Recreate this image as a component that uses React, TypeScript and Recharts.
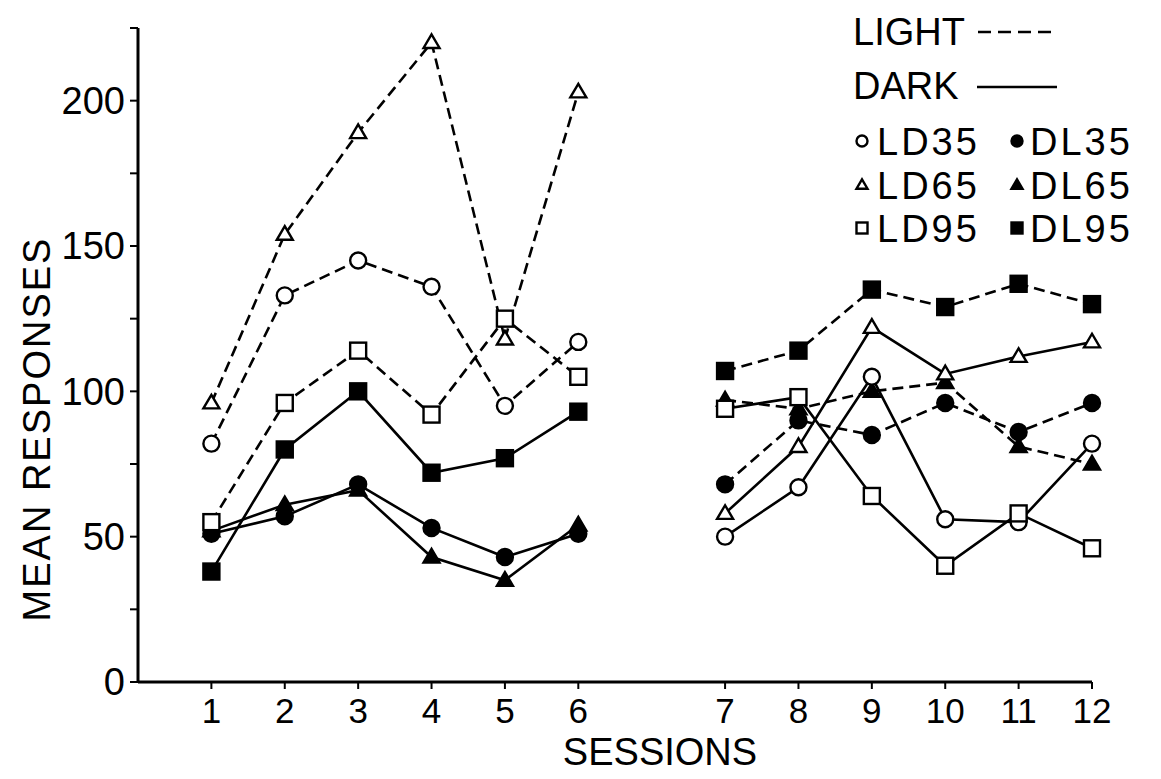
import React from 'react';
import { LineChart, Line, XAxis, YAxis } from 'recharts';

// sessions 1-6 are the first phase, 7-12 the reversed phase
const SESSIONS = [1, 2, 3, 4, 5, 6, 7, 8, 9, 10, 11, 12];
const Y_TICKS = [0, 25, 50, 75, 100, 125, 150, 175, 200, 225];

const LD35 = [82, 133, 145, 136, 95, 117, 50, 67, 105, 56, 55, 82];
const LD65 = [96, 154, 189, 220, 118, 203, 58, 81, 122, 106, 112, 117];
const LD95 = [55, 96, 114, 92, 125, 105, 94, 98, 64, 40, 58, 46];
const DL35 = [51, 57, 68, 53, 43, 51, 68, 90, 85, 96, 86, 96];
const DL65 = [52, 61, 66, 43, 35, 54, 97, 94, 100, 103, 81, 75];
const DL95 = [38, 80, 100, 72, 77, 93, 107, 114, 135, 129, 137, 130];

type Shape = 'circle' | 'triangle' | 'square';

type Group = {
  name: string;
  values: number[];
  shape: Shape;
  filled: boolean;
  lightFirst: boolean; // LD groups start in light (dashed), DL groups in dark (solid)
};

const GROUPS: Group[] = [
  { name: 'DL35', values: DL35, shape: 'circle', filled: true, lightFirst: false },
  { name: 'DL65', values: DL65, shape: 'triangle', filled: true, lightFirst: false },
  { name: 'DL95', values: DL95, shape: 'square', filled: true, lightFirst: false },
  { name: 'LD35', values: LD35, shape: 'circle', filled: false, lightFirst: true },
  { name: 'LD65', values: LD65, shape: 'triangle', filled: false, lightFirst: true },
  { name: 'LD95', values: LD95, shape: 'square', filled: false, lightFirst: true },
];

const FONT = '"Liberation Sans", Arial, sans-serif';
const DASH = '11 6';

// one slot of empty axis between session 6 and 7
const toPos = (s: number) => (s <= 6 ? s : s + 1);

const rows = SESSIONS.map((s, i) => {
  const row: Record<string, number | null> = { pos: toPos(s) };
  GROUPS.forEach((g) => {
    row[`${g.name}_a`] = s <= 6 ? g.values[i] : null;
    row[`${g.name}_b`] = s > 6 ? g.values[i] : null;
  });
  return row;
});

function Marker({ shape, filled, cx, cy, size }: { shape: Shape; filled: boolean; cx: number; cy: number; size: number }) {
  const fill = filled ? '#000' : '#fff';
  const common = { fill, stroke: '#000', strokeWidth: 2.4 };
  if (shape === 'circle') return <circle cx={cx} cy={cy} r={size / 2} {...common} />;
  if (shape === 'square')
    return <rect x={cx - size / 2} y={cy - size / 2} width={size} height={size} {...common} />;
  const h = size * 0.85;
  return (
    <polygon
      points={`${cx},${cy - h * 0.6} ${cx - size / 2},${cy + h * 0.4} ${cx + size / 2},${cy + h * 0.4}`}
      {...common}
    />
  );
}

const makeDot = (g: Group, part: string) => (props: any) => {
  const { cx, cy, value, index } = props;
  const key = `${g.name}-${part}-${index}`;
  if (value == null || cx == null || cy == null) return <g key={key} />;
  return (
    <g key={key}>
      <Marker shape={g.shape} filled={g.filled} cx={cx} cy={cy} size={16} />
    </g>
  );
};

function LegendBox() {
  const textStyle = { fontFamily: FONT, fontSize: 38, fill: '#000' };
  const pairs: [Group, Group][] = [
    [GROUPS[3], GROUPS[0]],
    [GROUPS[4], GROUPS[1]],
    [GROUPS[5], GROUPS[2]],
  ];
  const rowY = [141, 185, 228];
  return (
    <svg width={311} height={260} style={{ position: 'absolute', left: 840, top: 0 }}>
      <text x={13} y={45} {...textStyle}>LIGHT</text>
      <line x1={138} x2={217} y1={32} y2={32} stroke="#000" strokeWidth={2.5} strokeDasharray="13 7" />
      <text x={13} y={99} {...textStyle}>DARK</text>
      <line x1={137} x2={217} y1={87} y2={87} stroke="#000" strokeWidth={2.5} />
      {pairs.map(([open, solid], i) => (
        <g key={open.name}>
          <Marker shape={open.shape} filled={false} cx={22} cy={rowY[i]} size={11} />
          <text x={37} y={rowY[i] + 14} letterSpacing={3} {...textStyle}>{open.name}</text>
          <Marker shape={solid.shape} filled cx={177} cy={rowY[i]} size={11} />
          <text x={190} y={rowY[i] + 14} letterSpacing={3} {...textStyle}>{solid.name}</text>
        </g>
      ))}
    </svg>
  );
}

export default function App() {
  return (
    <div style={{ position: 'absolute', left: 0, top: 0, width: 1161, height: 779, background: '#fff', fontFamily: FONT }}>
      <LineChart width={1161} height={779} data={rows} margin={{ top: 28, right: 69, left: 58, bottom: 37 }}>
        <XAxis
          type="number"
          dataKey="pos"
          domain={[0, 13]}
          ticks={[1, 2, 3, 4, 5, 6, 8, 9, 10, 11, 12, 13]}
          interval={0}
          tickFormatter={(p: number) => String(p <= 6 ? p : p - 1)}
          height={60}
          axisLine={{ stroke: '#000', strokeWidth: 3 }}
          tickLine={{ stroke: '#000', strokeWidth: 2 }}
          tickSize={7}
          tickMargin={9}
          tick={{ fill: '#000', fontSize: 35, fontFamily: FONT }}
          label={{
            content: () => (
              <text x={660} y={765} textAnchor="middle" fontFamily={FONT} fontSize={38} fill="#000">
                SESSIONS
              </text>
            ),
          }}
        />
        <YAxis
          type="number"
          domain={[0, 225]}
          ticks={Y_TICKS}
          interval={0}
          width={80}
          tickFormatter={(v: number) => (v % 50 === 0 && v <= 200 ? String(v) : '')}
          axisLine={{ stroke: '#000', strokeWidth: 3 }}
          tickLine={{ stroke: '#000', strokeWidth: 2 }}
          tickSize={8}
          tickMargin={5}
          tick={{ fill: '#000', fontSize: 38, fontFamily: FONT }}
          label={{
            content: () => (
              <text
                x={37}
                y={429}
                transform="rotate(-90 37 429)"
                textAnchor="middle"
                dominantBaseline="central"
                fontFamily={FONT}
                fontSize={38}
                letterSpacing={2}
                fill="#000"
              >
                MEAN RESPONSES
              </text>
            ),
          }}
        />
        {GROUPS.flatMap((g) => [
          <Line
            key={`${g.name}_a`}
            dataKey={`${g.name}_a`}
            type="linear"
            stroke="#000"
            strokeWidth={2.6}
            strokeDasharray={g.lightFirst ? DASH : undefined}
            dot={makeDot(g, 'a')}
            activeDot={false}
            legendType="none"
            isAnimationActive={false}
          />,
          <Line
            key={`${g.name}_b`}
            dataKey={`${g.name}_b`}
            type="linear"
            stroke="#000"
            strokeWidth={2.6}
            strokeDasharray={g.lightFirst ? undefined : DASH}
            dot={makeDot(g, 'b')}
            activeDot={false}
            legendType="none"
            isAnimationActive={false}
          />,
        ])}
      </LineChart>
      <LegendBox />
    </div>
  );
}
